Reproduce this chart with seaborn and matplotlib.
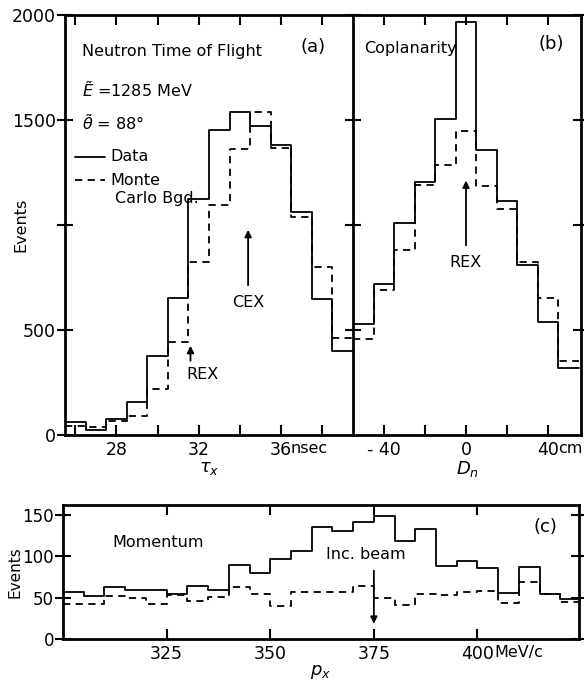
import matplotlib
matplotlib.use("Agg")
import matplotlib.pyplot as plt
import seaborn as sns
import numpy as np
import pandas as pd

# (a) neutron time of flight, 1 ns bins
tof_edges = np.arange(25.5, 40.0, 1.0)
tof_data = [62, 25, 78, 158, 378, 654, 1125, 1450, 1536, 1470, 1380, 1060, 646, 400]
tof_mc = [42, 38, 66, 91, 221, 441, 825, 1097, 1360, 1536, 1367, 1037, 798, 460]

# (b) coplanarity, 10 cm bins
cop_edges = np.arange(-55, 56, 10)
cop_data = [529, 718, 1008, 1203, 1507, 1966, 1358, 1113, 810, 540, 317]
cop_mc = [457, 690, 881, 1192, 1287, 1447, 1187, 1075, 825, 651, 350]

# (c) momentum, 5 MeV/c bins
mom_edges = np.arange(300, 426, 5)
mom_data = [57, 52, 63, 59, 59, 55, 64, 59, 90, 80, 97, 107, 135, 130, 142,
            149, 119, 133, 88, 94, 86, 56, 87, 55, 48]
mom_mc = [42, 42, 52, 49, 42, 53, 46, 51, 63, 55, 40, 57, 57, 57, 64,
          50, 41, 55, 53, 57, 58, 43, 69, 54, 45]

sns.set_style("ticks")
plt.rcParams['font.family'] = ['DejaVu Sans']
plt.rcParams['font.size'] = 11.5
plt.rcParams['axes.edgecolor'] = 'black'
plt.rcParams['text.color'] = 'black'
plt.rcParams['axes.labelcolor'] = 'black'
plt.rcParams['xtick.color'] = 'black'
plt.rcParams['ytick.color'] = 'black'
plt.rcParams['xtick.labelsize'] = 12.5
plt.rcParams['ytick.labelsize'] = 12.5

fig = plt.figure(figsize=(5.84, 6.82), dpi=100)
ax_a = fig.add_axes([0.1113, 0.3622, 0.4932, 0.6158])
ax_b = fig.add_axes([0.6045, 0.3622, 0.3904, 0.6158])
ax_c = fig.add_axes([0.1079, 0.0630, 0.8836, 0.1965])

dash = (0, (4, 3))


def draw_hist(ax, edges, data, mc):
    centers = (edges[:-1] + edges[1:]) / 2
    df = pd.DataFrame({'x': centers, 'data': data, 'mc': mc})
    sns.histplot(data=df, x='x', weights='data', bins=list(edges), element="step",
                 fill=False, color="black", linewidth=1.3, ax=ax)
    sns.histplot(data=df, x='x', weights='mc', bins=list(edges), element="step",
                 fill=False, color="black", linewidth=1.3, linestyle=dash,
                 ax=ax)


draw_hist(ax_a, tof_edges, tof_data, tof_mc)
draw_hist(ax_b, cop_edges, cop_data, cop_mc)
draw_hist(ax_c, mom_edges, mom_data, mom_mc)

for ax in (ax_a, ax_b, ax_c):
    for s in ax.spines.values():
        s.set_linewidth(2.0)
    ax.set_xlabel("")
    ax.set_ylabel("")

# ---- panel (a)
ax_a.set_xlim(25.5, 39.5)
ax_a.set_ylim(0, 2000)
ax_a.spines['right'].set_visible(False)
ax_a.set_xticks(np.arange(26, 40, 2))
ax_a.set_xticklabels(["", "28", "", "32", "", "36", ""])
ax_a.set_yticks([0, 500, 1000, 1500, 2000])
ax_a.set_yticklabels(["0", "500", "", "1500", "2000"])
ax_a.tick_params(axis='x', direction='in', length=7, width=1.5, top=True, pad=4)
ax_a.tick_params(axis='y', direction='inout', length=11, width=1.5, right=False, pad=1)
ax_a.annotate("nsec", xy=(36, 0), xycoords=('data', 'axes fraction'),
              xytext=(7, -4.5), textcoords='offset points', ha='left', va='top')
ax_a.set_ylabel("Events")
ax_a.yaxis.set_label_coords(-0.128, 0.5)
ax_a.set_xlabel(r"$\tau_x$", labelpad=0, fontsize=13)

ax_a.text(0.059, 0.912, "Neutron Time of Flight", transform=ax_a.transAxes, va='center')
ax_a.text(0.861, 0.924, "(a)", transform=ax_a.transAxes, ha='center', va='center', fontsize=13)
ax_a.text(0.059, 0.821, r"$\tilde{E}$ =1285 MeV", transform=ax_a.transAxes, va='center')
ax_a.text(0.059, 0.743, r"$\tilde{\theta}$ = 88°", transform=ax_a.transAxes, va='center')
ax_a.plot([0.035, 0.139], [0.662, 0.662], color='black', lw=1.3, transform=ax_a.transAxes)
ax_a.text(0.156, 0.662, "Data", transform=ax_a.transAxes, va='center')
ax_a.plot([0.035, 0.139], [0.607, 0.607], color='black', lw=1.3, ls=dash, transform=ax_a.transAxes)
ax_a.text(0.156, 0.607, "Monte", transform=ax_a.transAxes, va='center')
ax_a.text(0.174, 0.564, "Carlo Bgd.", transform=ax_a.transAxes, va='center')

arrow = dict(arrowstyle='-|>', color='black', lw=1.3, mutation_scale=10)
ax_a.annotate("", xy=(34.4, 990), xytext=(34.4, 700), arrowprops=arrow)
ax_a.text(34.4, 633, "CEX", ha='center', va='center')
ax_a.annotate("", xy=(31.6, 438), xytext=(31.6, 340), arrowprops=arrow)
ax_a.text(32.2, 290, "REX", ha='center', va='center')

# ---- panel (b)
ax_b.set_xlim(-55, 56)
ax_b.set_ylim(0, 2000)
ax_b.set_xticks([-40, -20, 0, 20, 40])
ax_b.set_xticklabels(["- 40", "", "0", "", "40"])
ax_b.set_yticks([500, 1000, 1500, 2000])
ax_b.set_yticklabels([])
ax_b.tick_params(axis='x', direction='in', length=7, width=1.5, top=True, pad=4)
ax_b.tick_params(axis='y', direction='inout', length=11, width=1.5, right=True)
ax_b.annotate("cm", xy=(40, 0), xycoords=('data', 'axes fraction'),
              xytext=(7, -4.5), textcoords='offset points', ha='left', va='top')
ax_b.set_xlabel(r"$D_n$", labelpad=0, fontsize=13)
ax_b.text(-49.8, 1839, "Coplanarity", va='center')
ax_b.text(41.5, 1860, "(b)", ha='center', va='center', fontsize=13)
ax_b.annotate("", xy=(0, 1225), xytext=(0, 890), arrowprops=arrow)
ax_b.text(0, 819, "REX", ha='center', va='center')

# ---- panel (c)
ax_c.set_xlim(300, 424.5)
ax_c.set_ylim(0, 162)
ax_c.set_xticks([325, 350, 375, 400])
ax_c.set_xticklabels(["325", "350", "375", "400"])
ax_c.set_yticks([0, 50, 100, 150])
ax_c.tick_params(axis='x', direction='in', length=7, width=1.5, top=True, pad=4)
ax_c.tick_params(axis='y', direction='inout', length=11, width=1.5, right=True,
                 pad=1, labelsize=12)
ax_c.annotate("MeV/c", xy=(400, 0), xycoords=('data', 'axes fraction'),
              xytext=(12, -4.5), textcoords='offset points', ha='left', va='top')
ax_c.set_ylabel("Events", fontsize=11)
ax_c.yaxis.set_label_coords(-0.078, 0.5)
ax_c.set_xlabel(r"$p_x$", labelpad=0, fontsize=13)
ax_c.text(312, 117, "Momentum", va='center')
ax_c.text(416.3, 136, "(c)", ha='center', va='center', fontsize=13)
ax_c.text(373, 102, "Inc. beam", ha='center', va='center')
ax_c.annotate("", xy=(375, 15), xytext=(375, 86), arrowprops=arrow)

fig.savefig("out.png", dpi=100)
